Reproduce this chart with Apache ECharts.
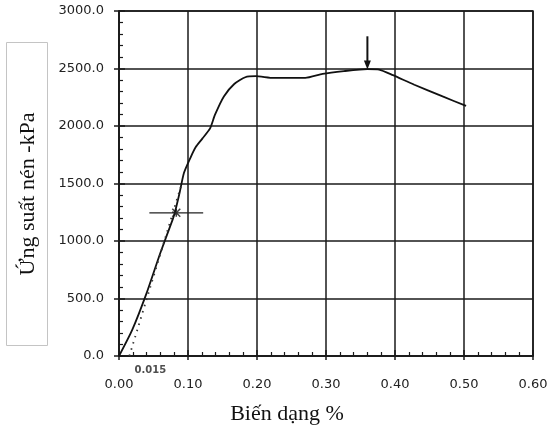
<!DOCTYPE html>
<html>
<head>
<meta charset="utf-8">
<script src="https://cdn.jsdelivr.net/npm/echarts@6/dist/echarts.min.js"></script>
<style>
  html, body { margin: 0; padding: 0; background: #fff; }
  #chart { width: 552px; height: 427px; }
</style>
</head>
<body>
<div id="chart"></div>
<script>
// đường cong ứng suất - biến dạng
const strainPct = [0, 0.019, 0.040, 0.060, 0.078, 0.081, 0.088, 0.094, 0.104, 0.111, 0.121, 0.132, 0.139, 0.152, 0.167, 0.183, 0.198, 0.224, 0.270, 0.295, 0.326, 0.360, 0.377, 0.397, 0.428, 0.469, 0.503]
const stressKpa = [0, 225, 547, 898, 1190, 1249, 1424, 1590, 1730, 1815, 1892, 1979, 2096, 2257, 2365, 2424, 2433, 2418, 2418, 2453, 2477, 2495, 2491, 2442, 2359, 2257, 2175]

// đường tiếp tuyến (chấm)
const tangentX = [0.015, 0.090]
const tangentY = [0, 1480]

// dấu cộng tại điểm 50%
const crossX = [0.044, 0.122]
const crossY = [1245, 1245]
const crossPoint = [0.083, 1245]

// mũi tên đỉnh
const arrowX = [0.360, 0.360]
const arrowY = [2780, 2530]

const xTicks = [0, 0.6, 0.1]
const yTicks = [0, 3000, 500]
const offsetLabel = '0.015'
const xTitle = 'Biến dạng %'
const yTitle = 'Ứng suất nén -kPa'

const zip = (a, b) => a.map((v, i) => [v, b[i]])

const chart = echarts.init(document.getElementById('chart'))

const tickFont = { color: '#222', fontSize: 13, fontFamily: 'DejaVu Sans' }
const titleFont = { color: '#111', fontSize: 22, fontFamily: 'Liberation Serif' }

const option = {
    backgroundColor: '#fff',
    animation: false,
    grid: {
        left: 119, top: 11, right: 19, bottom: 71,
        outerBoundsMode: 'none',
        containLabel: false,
        show: true, borderColor: '#1a1a1a', borderWidth: 1.5
    },
    // khung tiêu đề trục tung
    graphic: [
        {
            type: 'rect',
            shape: { x: 6.5, y: 42.5, width: 41, height: 303 },
            style: { fill: '#fff', stroke: '#c4c4c4', lineWidth: 1 }
        },
        {
            type: 'text',
            x: 28, y: 194,
            rotation: Math.PI / 2,
            style: {
                text: yTitle,
                fill: '#111',
                font: '22px "Liberation Serif"',
                align: 'center',
                verticalAlign: 'middle'
            }
        }
    ],
    xAxis: [{
        type: 'value',
        min: xTicks[0], max: xTicks[1], interval: xTicks[2],
        name: xTitle,
        nameLocation: 'middle',
        nameGap: 47,
        nameTextStyle: Object.assign({ padding: [0, 78, 0, 0] }, titleFont),
        axisLine: { lineStyle: { color: '#1a1a1a', width: 1.5 } },
        axisTick: { inside: true, length: 6, lineStyle: { color: '#1a1a1a', width: 1.5 } },
        minorTick: { show: true, splitNumber: 5, length: 4, lineStyle: { color: '#1a1a1a', width: 1.2 } },
        axisLabel: Object.assign({ margin: 22, formatter: v => v.toFixed(2) }, tickFont),
        splitLine: { show: true, lineStyle: { color: '#1a1a1a', width: 1.5 } }
    }, {
        type: 'value', position: 'bottom',
        min: xTicks[0], max: xTicks[1], interval: xTicks[2],
        axisLine: { show: false },
        axisTick: { inside: false, length: 4, lineStyle: { color: '#1a1a1a', width: 1.5 } },
        axisLabel: { show: false },
        splitLine: { show: false }
    }],
    yAxis: [{
        type: 'value',
        min: yTicks[0], max: yTicks[1], interval: yTicks[2],
        axisLine: { lineStyle: { color: '#1a1a1a', width: 1.5 } },
        axisTick: { inside: true, length: 6, lineStyle: { color: '#1a1a1a', width: 1.5 } },
        minorTick: { show: true, splitNumber: 5, length: 4, lineStyle: { color: '#1a1a1a', width: 1.2 } },
        axisLabel: Object.assign({ margin: 15, formatter: v => v.toFixed(1) }, tickFont),
        splitLine: { show: true, lineStyle: { color: '#1a1a1a', width: 1.5 } }
    }, {
        type: 'value', position: 'left',
        min: yTicks[0], max: yTicks[1], interval: yTicks[2],
        axisLine: { show: false },
        axisTick: { inside: false, length: 5, lineStyle: { color: '#1a1a1a', width: 1.5 } },
        axisLabel: { show: false },
        splitLine: { show: false }
    }],
    series: [
        {
            type: 'line',
            data: zip(strainPct, stressKpa),
            smooth: 0.2,
            symbol: 'none',
            lineStyle: { color: '#111', width: 1.8 }
        },
        {
            type: 'line',
            data: zip(tangentX, tangentY),
            symbol: 'none',
            lineStyle: { color: '#333', width: 1.8, type: [1.5, 5] }
        },
        {
            type: 'line',
            data: zip(crossX, crossY),
            symbol: 'none',
            lineStyle: { color: '#222', width: 1.3 }
        },
        {
            type: 'scatter',
            data: [crossPoint],
            symbol: 'path://M0,0L10,10M10,0L0,10M5,0L5,10',
            symbolSize: 8,
            itemStyle: { color: 'none', borderColor: '#111', borderWidth: 1.5 }
        },
        {
            type: 'line',
            data: [
                { value: [arrowX[0], arrowY[0]], symbol: 'none' },
                { value: [arrowX[1], arrowY[1]], symbol: 'triangle', symbolRotate: 180, symbolSize: [7, 9] }
            ],
            lineStyle: { color: '#111', width: 2 },
            itemStyle: { color: '#111' }
        },
        {
            type: 'scatter',
            data: [[tangentX[0], 0]],
            symbolSize: 0,
            label: {
                show: true,
                formatter: offsetLabel,
                position: 'bottom',
                distance: 9,
                offset: [21, 0],
                color: '#222', fontSize: 10, fontWeight: 'bold', fontFamily: 'DejaVu Sans'
            }
        }
    ]
}

chart.setOption(option)
</script>
</body>
</html>
